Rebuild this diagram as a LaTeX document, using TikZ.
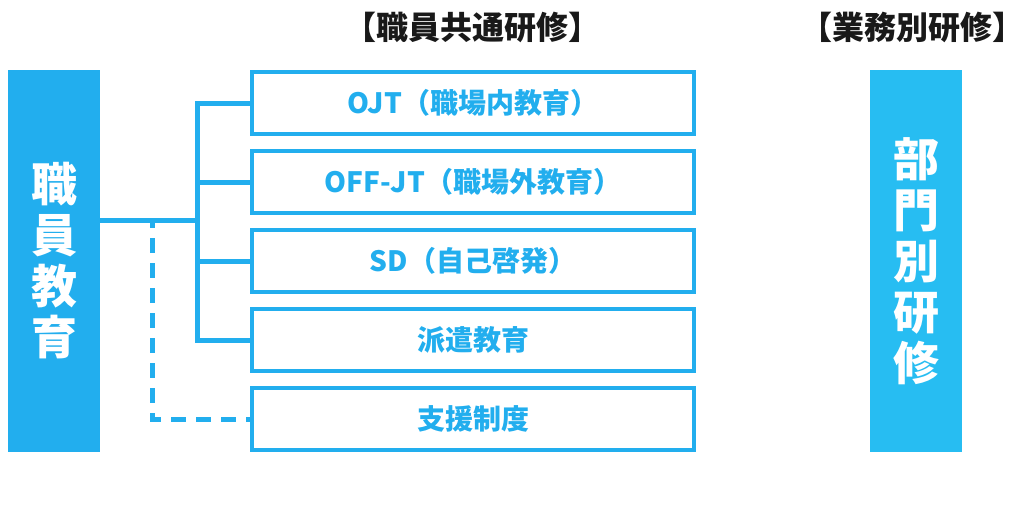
\documentclass[tikz,border=0pt]{standalone}
\usepackage{fontspec}
\setmainfont{Noto Sans CJK JP}
\usepackage{tikz}
\usetikzlibrary{positioning}
\definecolor{sky}{HTML}{22AEEE}
\definecolor{skyl}{HTML}{27BDF2}
\tikzstyle{sb} = [rectangle, draw=none, text=white, font=\bfseries\fontsize{46}{51}\selectfont, align=center, inner sep=0pt, minimum width=92pt, minimum height=382pt]
\tikzstyle{ib} = [rectangle, draw=sky, line width=4pt, text=sky, font=\bfseries\fontsize{28}{32}\selectfont, align=center, inner sep=0pt, minimum width=442pt, minimum height=62pt]
\tikzstyle{tt} = [black!90, font=\bfseries\fontsize{32}{36}\selectfont, inner sep=0pt]
\tikzstyle{hl} = [sky, line width=5pt]
\tikzstyle{dl} = [sky, line width=5pt, dash pattern=on 15pt off 10pt, dash phase=7pt]

\begin{document}
\begin{tikzpicture}[x=1pt, y=-1pt]
		\useasboundingbox (0,0) rectangle (1026,504);

		\node[tt] (T1) at (472,27) {【職員共通研修】};
		\node[tt] (T2) at (912,27) {【業務別研修】};

		\node[sb, fill=sky]  (L) at (54,261) {職\\員\\教\\育};
		\node[sb, fill=skyl] (R) at (916,261) {部\\門\\別\\研\\修};

		\begin{scope}[every node/.style={ib}]
			\node (A) at (473,103) {OJT（職場内教育）};
			\node (B) at (473,182) {OFF-JT（職場外教育）};
			\node (C) at (473,261) {SD（自己啓発）};
			\node (D) at (473,340) {派遣教育};
			\node (E) at (473,419) {支援制度};
		\end{scope}

		\coordinate (J) at (197,220);
		\coordinate (K) at (152,220);

		\draw[hl] (L.east |- J) -- (J);
		\draw[hl] (A.west) -| (J) |- (D.west);
		\draw[hl] (J |- B.west) -- (B.west);
		\draw[hl] (J |- C.west) -- (C.west);
		\draw[dl] (K) |- (E.west);
	\end{tikzpicture}
\end{document}
